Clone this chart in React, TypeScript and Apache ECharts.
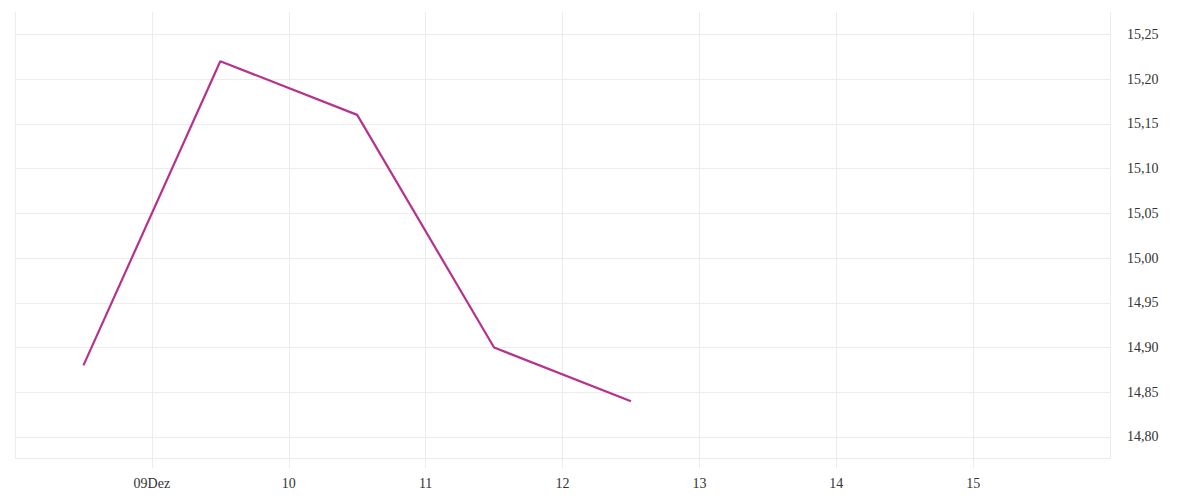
import React, { useEffect, useRef } from "react";
import * as echarts from "echarts";

// Day of December (fractional: .5 = midday) and closing values
const pointDays: number[] = [8.5, 9.5, 10.5, 11.5, 12.5];
const prices: number[] = [14.88, 15.22, 15.16, 14.9, 14.84];

// X axis tick labels by day of month
const dayTicks: number[] = [9, 10, 11, 12, 13, 14, 15];
const dayTickLabels: string[] = ["09Dez", "10", "11", "12", "13", "14", "15"];

const xMin = 8;
const xMax = 16;
const yMin = 14.7765;
const yMax = 15.275;

const FONT = "Liberation Serif";
const GRID_COLOR = "#ececec";
const TEXT_COLOR = "#333333";
const LINE_COLOR = "#b5328d";

export default function App() {
  const ref = useRef<HTMLDivElement>(null);

  useEffect(() => {
    if (!ref.current) return;
    const chart = echarts.init(ref.current, undefined, { renderer: "svg" });
    const data = pointDays.map((d, i) => [d, prices[i]]);
    chart.setOption({
      animation: false,
      backgroundColor: "#ffffff",
      grid: { left: 15, right: 90, top: 12, bottom: 42, containLabel: false },
      xAxis: {
        type: "value",
        min: xMin,
        max: xMax,
        interval: 1,
        axisLine: { show: true, lineStyle: { color: GRID_COLOR, width: 1 } },
        axisTick: { show: true, length: 10, lineStyle: { color: GRID_COLOR } },
        splitLine: { show: true, lineStyle: { color: GRID_COLOR, width: 1 } },
        axisLabel: {
          show: true,
          margin: 18,
          color: TEXT_COLOR,
          fontFamily: FONT,
          fontSize: 14,
          showMinLabel: false,
          showMaxLabel: false,
          formatter: (v: number) => {
            const idx = dayTicks.indexOf(Math.round(v));
            return idx >= 0 ? dayTickLabels[idx] : "";
          },
        },
      },
      yAxis: {
        type: "value",
        position: "right",
        min: yMin,
        max: yMax,
        splitNumber: 10,
        scale: true,
        axisLine: { show: false },
        axisTick: { show: false },
        splitLine: {
          show: true,
          showMaxLine: false,
          showMinLine: false,
          lineStyle: { color: GRID_COLOR, width: 1 },
        },
        axisLabel: {
          show: true,
          margin: 17,
          color: TEXT_COLOR,
          fontFamily: FONT,
          fontSize: 14,
          showMinLabel: false,
          showMaxLabel: false,
          formatter: (v: number) => v.toFixed(2).replace(".", ","),
        },
      },
      series: [
        {
          type: "line",
          data,
          showSymbol: false,
          symbol: "none",
          lineStyle: { color: LINE_COLOR, width: 2.2 },
          itemStyle: { color: LINE_COLOR },
        },
      ],
    });
    return () => chart.dispose();
  }, []);

  return (
    <div
      ref={ref}
      style={{ position: "fixed", left: 0, top: 0, width: 1200, height: 500 }}
    />
  );
}
